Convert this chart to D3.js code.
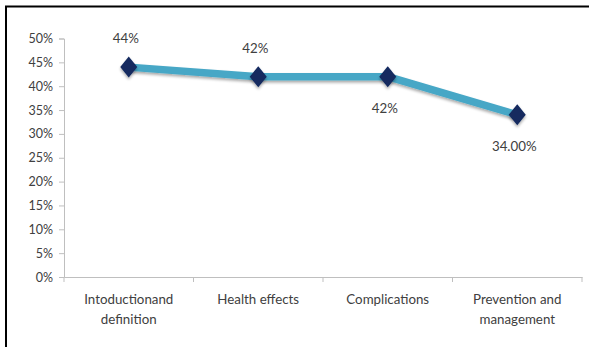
<!DOCTYPE html>
<html><head><meta charset="utf-8">
<script src="https://cdn.jsdelivr.net/npm/d3@7"></script>
<style>body{margin:0;background:#fff;}svg{display:block;}</style>
</head><body>
<script>
const categories = [["Intoductionand","definition"],["Health effects"],["Complications"],["Prevention and","management"]];
const values = [0.44, 0.42, 0.42, 0.34];
const valueLabels = ["44%", "42%", "42%", "34.00%"];
const labelPos = ["above", "above", "below", "below"];
const yTicks = [0,0.05,0.1,0.15,0.2,0.25,0.3,0.35,0.4,0.45,0.5];

const W = 589, H = 347;
const svg = d3.select("body").append("svg").attr("width", W).attr("height", H);
const font = "Lato, 'Open Sans', sans-serif";
const txt = "#404040";

// frame
svg.append("rect").attr("x", 6).attr("y", 6.5).attr("width", 600).attr("height", 400)
  .attr("fill", "none").attr("stroke", "#000").attr("stroke-width", 2);

const x0 = 64, x1 = 582, yTop = 38.5, yBot = 277;
const x = d3.scaleBand().domain(d3.range(categories.length)).range([x0, x1]);
const y = d3.scaleLinear().domain([0, 0.5]).range([yBot, yTop]);

// y axis
const yAxis = svg.append("g").attr("transform", `translate(${x0},0)`)
  .call(d3.axisLeft(y).tickValues(yTicks).tickFormat(d3.format(".0%")).tickSize(5).tickPadding(6));
yAxis.select(".domain").attr("stroke", "#bfbfbf");
yAxis.selectAll(".tick line").attr("stroke", "#bfbfbf");
yAxis.selectAll("text").attr("fill", txt).style("font-family", font).style("font-size", "12.5px");

// x axis
const xAxis = svg.append("g").attr("transform", `translate(0,${yBot})`)
  .call(d3.axisBottom(x).tickSize(0).tickFormat(""));
xAxis.select(".domain").attr("stroke", "#bfbfbf");
const tickPos = d3.range(categories.length + 1).map(i => x0 + i * x.step());
xAxis.selectAll(".sep").data(tickPos).join("line").attr("class", "sep")
  .attr("x1", d => d).attr("x2", d => d).attr("y1", 0).attr("y2", 5).attr("stroke", "#bfbfbf");

categories.forEach((lines, i) => {
  const t = svg.append("text").attr("text-anchor", "middle").attr("fill", txt)
    .style("font-family", font).style("font-size", "13.3px");
  lines.forEach((l, j) => t.append("tspan").attr("x", x(i) + x.bandwidth() / 2).attr("y", 304 + j * 20).text(l));
});

// shadow filter
const defs = svg.append("defs");
const f = defs.append("filter").attr("id", "sh").attr("x", "-50%").attr("y", "-50%").attr("width", "200%").attr("height", "200%");
f.append("feGaussianBlur").attr("in", "SourceAlpha").attr("stdDeviation", 1.5);
f.append("feOffset").attr("dx", 0).attr("dy", 2).attr("result", "b");
f.append("feComponentTransfer").append("feFuncA").attr("type", "linear").attr("slope", 0.35);
const m = f.append("feMerge"); m.append("feMergeNode"); m.append("feMergeNode").attr("in", "SourceGraphic");

const cx = i => x(i) + x.bandwidth() / 2;
const line = d3.line().x((d, i) => cx(i)).y(d => y(d));
svg.append("path").datum(values).attr("d", line).attr("fill", "none")
  .attr("stroke", "#46a7c6").attr("stroke-width", 7.5).attr("stroke-linejoin", "round").attr("filter", "url(#sh)");

svg.selectAll(".mk").data(values).join("path").attr("class", "mk")
  .attr("d", "M0,-10.5L8.5,0L0,10.5L-8.5,0Z")
  .attr("transform", (d, i) => `translate(${cx(i)},${y(d)})`)
  .attr("fill", "#12295e").attr("filter", "url(#sh)");

svg.selectAll(".vl").data(values).join("text").attr("class", "vl")
  .attr("x", (d, i) => cx(i) - 3)
  .attr("y", (d, i) => labelPos[i] === "above" ? y(d) - 24 : y(d) + 36)
  .attr("text-anchor", "middle").attr("fill", txt)
  .style("font-family", font).style("font-size", "13.3px")
  .text((d, i) => valueLabels[i]);
</script>
</body></html>
